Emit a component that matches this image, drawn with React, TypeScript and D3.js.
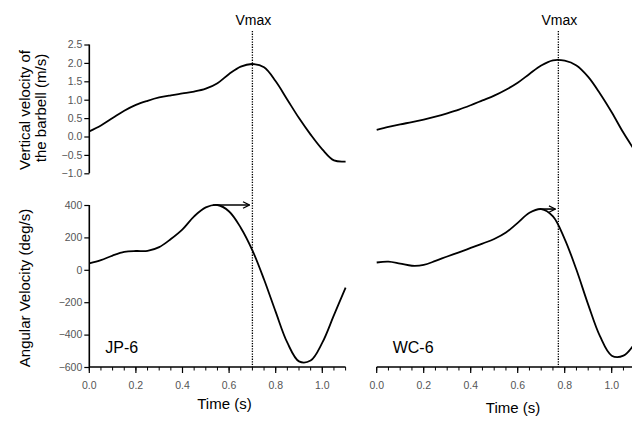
import React, { useEffect, useRef } from "react";
import * as d3 from "d3";

const times = [0, 0.05, 0.1, 0.15, 0.2, 0.25, 0.3, 0.35, 0.4, 0.45, 0.5, 0.55, 0.6, 0.65, 0.7, 0.75, 0.8, 0.85, 0.9, 0.95, 1.0, 1.05, 1.1];
const jpBarVel = [0.14, 0.3, 0.5, 0.7, 0.86, 0.97, 1.06, 1.12, 1.17, 1.22, 1.3, 1.45, 1.7, 1.9, 1.97, 1.88, 1.5, 1.0, 0.5, 0.05, -0.35, -0.65, -0.68];
const jpAngVel = [40, 60, 88, 110, 116, 117, 140, 190, 250, 330, 385, 400, 360, 260, 120, -60, -260, -450, -565, -560, -450, -280, -110];
const wcBarVel = [0.18, 0.26, 0.33, 0.39, 0.46, 0.54, 0.63, 0.73, 0.85, 0.98, 1.11, 1.27, 1.46, 1.7, 1.93, 2.07, 2.06, 1.93, 1.62, 1.17, 0.66, 0.1, -0.4];
const wcAngVel = [45, 50, 38, 25, 30, 55, 82, 108, 135, 162, 190, 230, 290, 352, 375, 330, 190, 0, -215, -410, -530, -530, -450];

const velTicks = [-1.0, -0.5, 0.0, 0.5, 1.0, 1.5, 2.0, 2.5];
const angTicks = [-600, -400, -200, 0, 200, 400];
const timeMajor = [0, 0.2, 0.4, 0.6, 0.8, 1.0];
const timeMinor = d3.range(0, 1.1001, 0.05);

const panels = [
  { name: "JP-6", bar: jpBarVel, ang: jpAngVel, vmax: 0.7, peakT: 0.53, peakW: 400, x0: 89.3, x1: 345.6, yAxis: true, timeY: 409 },
  { name: "WC-6", bar: wcBarVel, ang: wcAngVel, vmax: 0.773, peakT: 0.695, peakW: 375, x0: 376.7, x1: 635.2, yAxis: false, timeY: 413 },
];

const FONT = "Arial, 'Liberation Sans', sans-serif";

export default function App() {
  const ref = useRef<SVGSVGElement>(null);
  useEffect(() => {
    const svg = d3.select(ref.current);
    svg.selectAll("*").remove();
    const yTop = d3.scaleLinear().domain([-1, 2.5]).range([173.3, 44.5]);
    const yBot = d3.scaleLinear().domain([-600, 400]).range([367, 205]);

    svg.append("defs").append("marker")
      .attr("id", "arr").attr("viewBox", "0 0 10 10").attr("refX", 9).attr("refY", 5)
      .attr("markerWidth", 8).attr("markerHeight", 8).attr("markerUnits", "userSpaceOnUse").attr("orient", "auto")
      .append("path").attr("d", "M1,1 L9,5 L1,9").attr("fill", "none").attr("stroke", "#000").attr("stroke-width", 1.6);

    panels.forEach((p) => {
      const x = d3.scaleLinear().domain([0, 1.1]).range([p.x0, p.x1]);
      const g = svg.append("g");

      if (p.yAxis) {
        const ay = g.append("g").attr("transform", `translate(${p.x0},0)`)
          .call(d3.axisLeft(yTop).tickValues(velTicks).tickSize(5).tickPadding(2).tickFormat(d3.format(".1f")));
        const ab = g.append("g").attr("transform", `translate(${p.x0},0)`)
          .call(d3.axisLeft(yBot).tickValues(angTicks).tickSize(5).tickPadding(2).tickFormat(d3.format("d")));
        [ay, ab].forEach((a) => {
          a.select(".domain").attr("stroke-width", 1.6).attr("d", null);
          a.selectAll("text").attr("font-family", FONT).attr("font-size", 10.5).attr("fill", "#555");
          a.selectAll("line").attr("stroke-width", 1.2);
        });
        ay.select(".domain").remove();
        ab.select(".domain").remove();
        g.append("line").attr("x1", p.x0).attr("x2", p.x0).attr("y1", yTop(2.5)).attr("y2", yTop(-1)).attr("stroke", "#000").attr("stroke-width", 1.6);
        g.append("line").attr("x1", p.x0).attr("x2", p.x0).attr("y1", yBot(400)).attr("y2", yBot(-600)).attr("stroke", "#000").attr("stroke-width", 1.6);
      }

      // x axis
      const ax = g.append("g").attr("transform", `translate(0,${yBot(-600)})`);
      ax.append("line").attr("x1", p.x0).attr("x2", p.x1).attr("stroke", "#000").attr("stroke-width", 1.6);
      ax.selectAll("line.minor").data(timeMinor).join("line").attr("class", "minor")
        .attr("x1", (d) => x(d)).attr("x2", (d) => x(d)).attr("y1", 0).attr("y2", 3.5)
        .attr("stroke", "#000").attr("stroke-width", 1);
      ax.selectAll("line.major").data(timeMajor).join("line").attr("class", "major")
        .attr("x1", (d) => x(d)).attr("x2", (d) => x(d)).attr("y1", 0).attr("y2", 6)
        .attr("stroke", "#000").attr("stroke-width", 1.2);
      ax.selectAll("text").data(timeMajor).join("text")
        .attr("x", (d) => x(d)).attr("y", 22).attr("text-anchor", "middle")
        .attr("font-family", FONT).attr("font-size", 10.5).attr("fill", "#555")
        .text((d) => d3.format(".1f")(d));

      const lineTop = d3.line<number>().x((_, i) => x(times[i])).y((d) => yTop(d)).curve(d3.curveCatmullRom);
      const lineBot = d3.line<number>().x((_, i) => x(times[i])).y((d) => yBot(d)).curve(d3.curveCatmullRom);
      g.append("path").attr("d", lineTop(p.bar)).attr("fill", "none").attr("stroke", "#000").attr("stroke-width", 1.8);
      g.append("path").attr("d", lineBot(p.ang)).attr("fill", "none").attr("stroke", "#000").attr("stroke-width", 1.8);

      // Vmax line
      g.append("line").attr("x1", x(p.vmax)).attr("x2", x(p.vmax)).attr("y1", 31).attr("y2", yBot(-600))
        .attr("stroke", "#000").attr("stroke-width", 1.3).attr("stroke-dasharray", "1.3,1.3");
      g.append("text").attr("x", x(p.vmax) + 1).attr("y", 25).attr("text-anchor", "middle")
        .attr("font-family", FONT).attr("font-size", 14).text("Vmax");

      // arrow
      g.append("line").attr("x1", x(p.peakT)).attr("x2", x(p.vmax) - 3).attr("y1", yBot(p.peakW)).attr("y2", yBot(p.peakW))
        .attr("stroke", "#000").attr("stroke-width", 1.6).attr("marker-end", "url(#arr)");

      g.append("text").attr("x", p.x0 + 16).attr("y", 353).attr("font-family", FONT).attr("font-size", 16).text(p.name);
      g.append("text").attr("x", x(0.58)).attr("y", p.timeY).attr("text-anchor", "middle")
        .attr("font-family", FONT).attr("font-size", 15).text("Time (s)");
    });

    svg.append("text").attr("transform", "translate(30,110) rotate(-90)").attr("text-anchor", "middle")
      .attr("font-family", FONT).attr("font-size", 15).text("Vertical velocity of");
    svg.append("text").attr("transform", "translate(46,108) rotate(-90)").attr("text-anchor", "middle")
      .attr("font-family", FONT).attr("font-size", 15).text("the barbell (m/s)");
    svg.append("text").attr("transform", "translate(30,288) rotate(-90)").attr("text-anchor", "middle")
      .attr("font-family", FONT).attr("font-size", 15).text("Angular Velocity (deg/s)");
  }, []);
  return (
    <svg ref={ref} width={632} height={421} style={{ position: "absolute", left: 0, top: 0, background: "#fff" }} />
  );
}
